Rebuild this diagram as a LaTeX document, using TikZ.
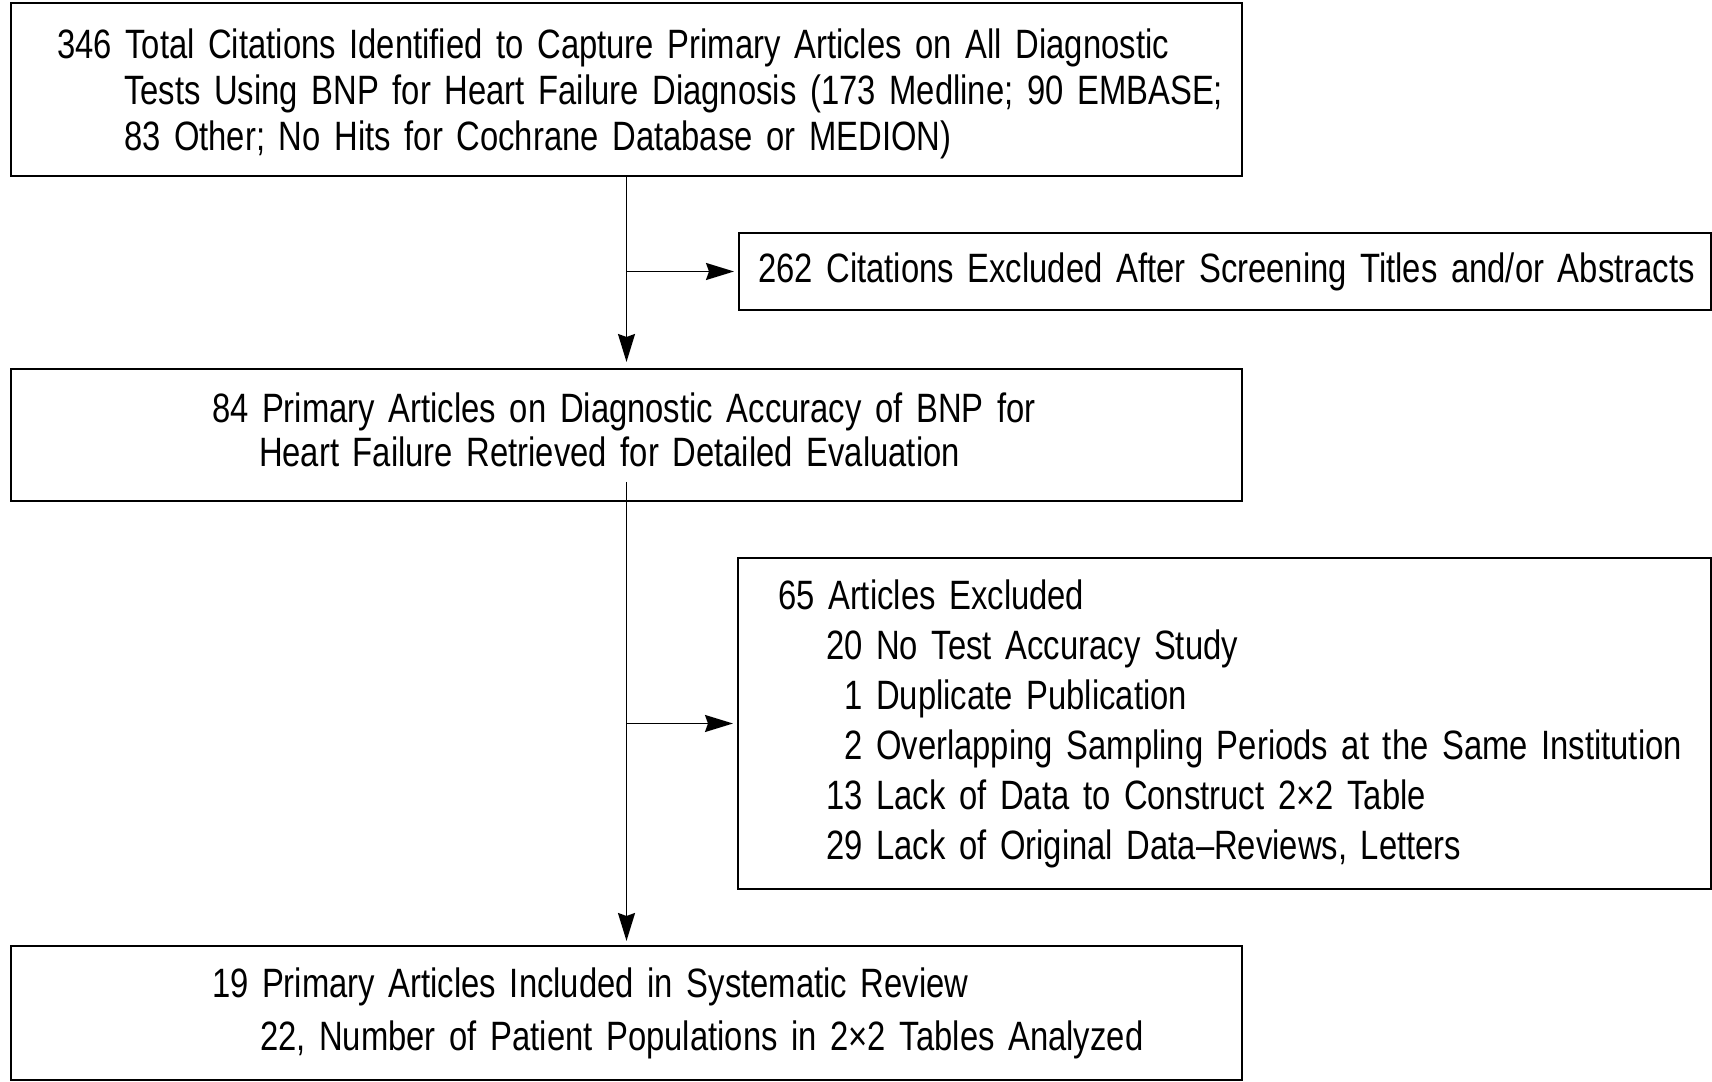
\documentclass[tikz,border=0pt]{standalone}
\usepackage{fontspec}
\setmainfont{Liberation Sans}[FakeStretch=0.80]
\usetikzlibrary{positioning,arrows.meta}

\begin{document}
\begin{tikzpicture}[on grid,x=1pt,y=1pt,
    box/.style={draw,line width=2pt,align=left,inner ysep=0pt,
      font=\fontsize{41}{46}\selectfont},
    flow/.style={line width=1.8pt,-{Stealth[length=28pt,width=17pt,inset=3pt]}}]
  \useasboundingbox (0,0) rectangle (1712,1081);
  \node[box,inner xsep=46pt,text width=1139pt,minimum height=173pt]
    (found) at (626.5,991.5)
    {\rule{0pt}{38pt}%
     \mbox{346 Total Citations Identified to Capture Primary Articles on All Diagnostic}\\
     \hspace*{67pt}\mbox{Tests Using BNP for Heart Failure Diagnosis (173 Medline; 90 EMBASE;}\\
     \hspace*{67pt}83 Other; No Hits for Cochrane Database or MEDION)};
  \node[box,inner xsep=19pt,text width=934pt,minimum height=77pt]
    (screened) at (1225,809.5)
    {\mbox{262 Citations Excluded After Screening Titles and/or Abstracts}};
  \node[box,inner xsep=201pt,text width=829pt,minimum height=132pt,
    below=345.5pt of found] (retrieved)
    {84 Primary Articles on Diagnostic Accuracy of BNP for\\[-2pt]
     \hspace*{47pt}Heart Failure Retrieved for Detailed Evaluation\rule[-11pt]{0pt}{11pt}};
  \node[box,inner xsep=40pt,text width=893pt,minimum height=331pt]
    (excluded) at (1224.5,357.5)
    {65 Articles Excluded\\[4pt]
     \hspace*{48pt}20 No Test Accuracy Study\\[4pt]
     \hspace*{48pt}\phantom{2}1 Duplicate Publication\\[4pt]
     \hspace*{48pt}\mbox{\phantom{2}2 Overlapping Sampling Periods at the Same Institution}\\[4pt]
     \hspace*{48pt}13 Lack of Data to Construct 2×2 Table\\[4pt]
     \hspace*{48pt}29 Lack of Original Data–Reviews, Letters};
  \node[box,inner xsep=201pt,text width=829pt,minimum height=134pt,
    below=578pt of retrieved] (included)
    {19 Primary Articles Included in Systematic Review\\[7pt]
     \hspace*{48pt}\mbox{22, Number of Patient Populations in 2×2 Tables Analyzed}};

  % main flow and side exits
  \draw[flow,shorten >=6pt] (found.south) -- (retrieved.north);
  \draw[flow,shorten >=4pt] ([yshift=20pt]retrieved.south) -- (included.north);
  \draw[flow,shorten >=4pt] (screened.west -| found.south) -- (screened.west);
  \draw[flow,shorten >=4pt] (excluded.west -| found.south) -- (excluded.west);
\end{tikzpicture}
\end{document}
